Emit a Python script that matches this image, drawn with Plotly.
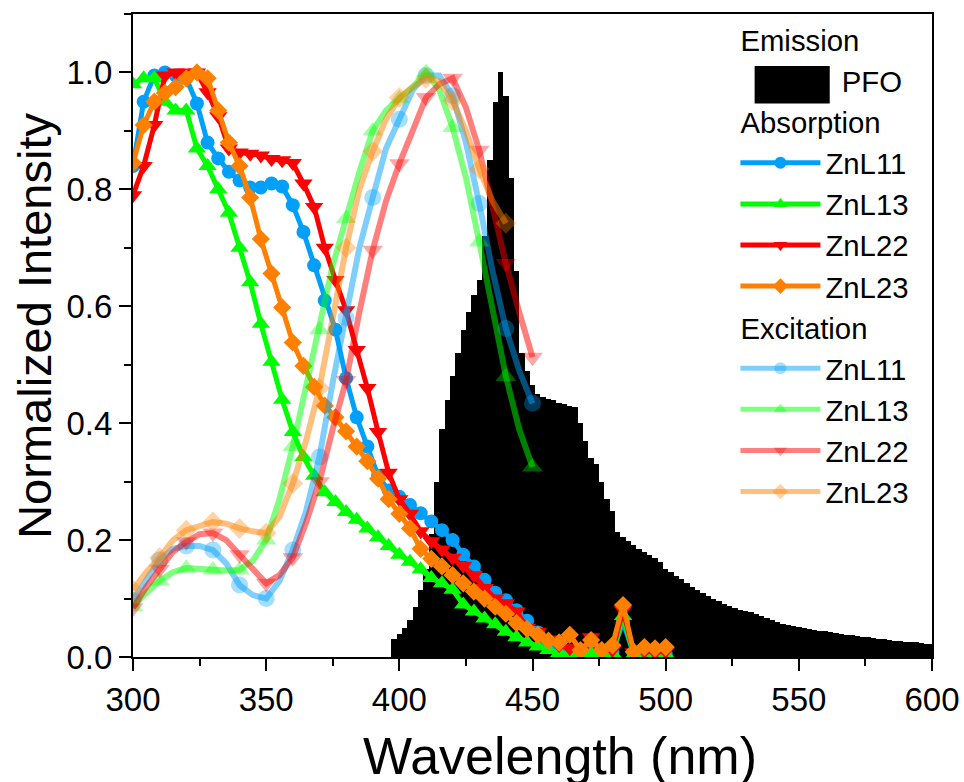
import plotly.graph_objects as go

# ---------------- data ----------------
emis_x = list(range(398, 601, 2))
emis_pfo = [0.03, 0.04, 0.05, 0.063, 0.085, 0.115, 0.15, 0.21, 0.30, 0.39,
            0.44, 0.48, 0.52, 0.56, 0.59, 0.62, 0.645, 0.72, 0.85, 0.95,
            1.00, 0.96, 0.82, 0.66, 0.52, 0.49, 0.465, 0.45, 0.445, 0.442,
            0.44, 0.435, 0.433, 0.43, 0.428, 0.40, 0.37, 0.34, 0.33, 0.30,
            0.27, 0.25, 0.214, 0.205, 0.198, 0.192, 0.185, 0.18, 0.175, 0.17,
            0.162, 0.15, 0.145, 0.138, 0.133, 0.127, 0.12, 0.115, 0.11, 0.104,
            0.099, 0.095, 0.091, 0.087, 0.084, 0.081, 0.079, 0.077, 0.073, 0.07,
            0.067, 0.063, 0.06, 0.057, 0.055, 0.053, 0.051, 0.049, 0.048, 0.047,
            0.045, 0.044, 0.043, 0.041, 0.04, 0.038, 0.037, 0.036, 0.035, 0.034,
            0.033, 0.031, 0.03, 0.029, 0.028, 0.027, 0.026, 0.025, 0.025, 0.024,
            0.023, 0.023]

abs_x = list(range(300, 501, 4))
abs_znl11 = [0.84, 0.95, 0.995, 1.0, 0.995, 0.99, 0.947, 0.88, 0.853, 0.83,
             0.815, 0.803, 0.803, 0.81, 0.805, 0.773, 0.727, 0.67, 0.61, 0.56,
             0.477, 0.41, 0.36, 0.31, 0.285, 0.274, 0.26, 0.246, 0.232, 0.217,
             0.20, 0.175, 0.155, 0.132, 0.11, 0.097, 0.08, 0.062, 0.042, 0.025,
             0.015, 0.01, 0.007, 0.01, 0.006, 0.008, 0.06, 0.005, 0.006, 0.005,
             0.005]
abs_znl13 = [0.98, 0.99, 0.99, 0.95, 0.935, 0.935, 0.87, 0.84, 0.80, 0.76,
             0.70, 0.641, 0.57, 0.505, 0.44, 0.385, 0.342, 0.31, 0.282, 0.265,
             0.248, 0.235, 0.22, 0.205, 0.19, 0.175, 0.163, 0.15, 0.135, 0.126,
             0.115, 0.09, 0.078, 0.066, 0.056, 0.043, 0.034, 0.025, 0.018, 0.012,
             0.007, 0.005, 0.004, 0.005, 0.004, 0.006, 0.07, 0.004, 0.005, 0.004,
             0.005]
abs_znl22 = [0.79, 0.84, 0.91, 0.995, 1.0, 1.0, 1.0, 0.966, 0.925, 0.87,
             0.863, 0.861, 0.858, 0.852, 0.85, 0.845, 0.81, 0.77, 0.70, 0.645,
             0.593, 0.525, 0.46, 0.385, 0.315, 0.27, 0.245, 0.215, 0.198, 0.184,
             0.17, 0.156, 0.14, 0.118, 0.10, 0.092, 0.078, 0.05, 0.043, 0.03,
             0.02, 0.015, 0.01, 0.034, 0.01, 0.012, 0.08, 0.008, 0.01, 0.008,
             0.01]
abs_znl23 = [0.845, 0.91, 0.95, 0.965, 0.975, 0.99, 1.0, 0.99, 0.935, 0.88,
             0.84, 0.786, 0.715, 0.656, 0.598, 0.538, 0.498, 0.462, 0.43, 0.41,
             0.386, 0.36, 0.335, 0.305, 0.27, 0.245, 0.22, 0.185, 0.168, 0.155,
             0.14, 0.126, 0.112, 0.10, 0.086, 0.074, 0.058, 0.048, 0.038, 0.028,
             0.025, 0.038, 0.012, 0.029, 0.012, 0.02, 0.089, 0.009, 0.017, 0.015,
             0.017]

exc_x = list(range(300, 451, 5))
exc_znl11 = [0.097, 0.13, 0.166, 0.185, 0.19, 0.19, 0.183, 0.16, 0.123, 0.106,
             0.10, 0.13, 0.183, 0.25, 0.342, 0.47, 0.58, 0.70, 0.786, 0.87,
             0.92, 0.97, 0.995, 0.995, 0.96, 0.88, 0.776, 0.66, 0.562, 0.49,
             0.434]
exc_znl13 = [0.086, 0.11, 0.13, 0.145, 0.152, 0.15, 0.149, 0.148, 0.149, 0.165,
             0.20, 0.27, 0.36, 0.46, 0.56, 0.67, 0.75, 0.83, 0.90, 0.935,
             0.955, 0.975, 1.0, 0.97, 0.906, 0.82, 0.71, 0.59, 0.48, 0.39,
             0.325]
exc_znl22 = [0.084, 0.12, 0.15, 0.18, 0.197, 0.21, 0.212, 0.20, 0.175, 0.15,
             0.126, 0.14, 0.17, 0.23, 0.30, 0.39, 0.473, 0.59, 0.696, 0.78,
             0.844, 0.90, 0.957, 0.98, 0.99, 0.94, 0.867, 0.77, 0.673, 0.59,
             0.513]
exc_znl23 = [0.115, 0.145, 0.17, 0.20, 0.217, 0.225, 0.231, 0.228, 0.22, 0.215,
             0.212, 0.24, 0.297, 0.37, 0.46, 0.58, 0.70, 0.80, 0.865, 0.92,
             0.957, 0.975, 0.99, 0.985, 0.952, 0.90, 0.835, 0.78, 0.742]

x_ticks = [300, 350, 400, 450, 500, 550, 600]
y_ticks = [0.0, 0.2, 0.4, 0.6, 0.8, 1.0]

# ---------------- styles ----------------
FONT = "Liberation Sans, Arial, sans-serif"
colors = {"ZnL11": (0, 160, 250), "ZnL13": (0, 255, 0),
          "ZnL22": (255, 0, 0), "ZnL23": (255, 128, 0)}
abs_symbols = {"ZnL11": ("circle", 14), "ZnL13": ("triangle-up", 16),
               "ZnL22": ("triangle-down", 16), "ZnL23": ("diamond", 14)}
exc_symbols = {"ZnL11": ("circle", 17), "ZnL13": ("triangle-up", 18),
               "ZnL22": ("triangle-down", 18), "ZnL23": ("diamond", 16)}

fig = go.Figure()

fig.add_trace(go.Bar(
    x=emis_x, y=emis_pfo, width=2, name="\u00a0\u00a0PFO",
    marker=dict(color="black", line=dict(width=0)),
    legendgroup="em", legendgrouptitle=dict(text="Emission"),
))

for name, ys in [("ZnL11", abs_znl11), ("ZnL13", abs_znl13),
                 ("ZnL22", abs_znl22), ("ZnL23", abs_znl23)]:
    r, g, b = colors[name]
    sym, sz = abs_symbols[name]
    fig.add_trace(go.Scatter(
        x=abs_x[:len(ys)], y=ys, mode="lines+markers", name=name,
        line=dict(color=f"rgb({r},{g},{b})", width=5),
        marker=dict(symbol=sym, size=sz, color=f"rgb({r},{g},{b})",
                    line=dict(width=0)),
        legendgroup="abs", legendgrouptitle=dict(text="Absorption"),
    ))

for name, ys in [("ZnL11", exc_znl11), ("ZnL13", exc_znl13),
                 ("ZnL22", exc_znl22), ("ZnL23", exc_znl23)]:
    r, g, b = colors[name]
    sym, sz = exc_symbols[name]
    sizes = [sz if i % 2 == 0 else 0 for i in range(len(ys))]
    fig.add_trace(go.Scatter(
        x=exc_x[:len(ys)], y=ys, mode="lines+markers", name=name,
        line=dict(color=f"rgba({r},{g},{b},0.5)", width=6),
        marker=dict(symbol=sym, size=sizes, color=f"rgba({r},{g},{b},0.5)",
                    line=dict(width=0)),
        legendgroup="exc", legendgrouptitle=dict(text="Excitation"),
    ))

axis_common = dict(
    showgrid=False, zeroline=False, showline=True, linecolor="black",
    linewidth=2, mirror=True, ticks="outside", ticklen=12, tickwidth=2,
    tickcolor="black", tickfont=dict(family=FONT, size=33, color="black"),
    automargin=False,
)

fig.update_layout(
    width=964, height=782,
    margin=dict(l=133, r=32, t=14, b=125),
    paper_bgcolor="white", plot_bgcolor="white",
    font=dict(family=FONT, color="black"),
    bargap=0,
    xaxis=dict(range=[300, 600], tickvals=x_ticks,
               minor=dict(dtick=25, ticks="outside", ticklen=7, tickwidth=2,
                          tickcolor="black"),
               **axis_common),
    yaxis=dict(range=[0, 1.1], tickvals=y_ticks, tickformat=".1f",
               minor=dict(dtick=0.1, ticks="outside", ticklen=7, tickwidth=2,
                          tickcolor="black"),
               **axis_common),
    legend=dict(x=0.978, xanchor="right", y=1.0, yanchor="top",
                bgcolor="rgba(0,0,0,0)", borderwidth=0,
                font=dict(family=FONT, size=29.3, color="black"),
                grouptitlefont=dict(family=FONT, size=29.3, color="black"),
                itemsizing="constant", itemwidth=80, tracegroupgap=0,
                traceorder="grouped"),
)

# axis titles
fig.add_annotation(text="Wavelength (nm)", xref="paper", yref="paper",
                   x=0.534, y=-0.154, xanchor="center", yanchor="middle",
                   showarrow=False,
                   font=dict(family=FONT, size=52, color="black"))
fig.add_annotation(text="Normalized Intensity", xref="paper", yref="paper",
                   x=-0.1227, y=0.515, xanchor="center", yanchor="middle",
                   textangle=-90, showarrow=False,
                   font=dict(family=FONT, size=47, color="black"))

# swatch for the emission legend entry
fig.add_shape(type="rect", xref="paper", yref="paper",
              x0=0.778, x1=0.872, y0=0.861, y1=0.919,
              fillcolor="black", line=dict(width=0), layer="above")

fig.write_html(
    "out.html",
    config={"displayModeBar": False},
    post_script="document.body.style.margin='0px';"
                "document.body.style.overflow='hidden';",
)
